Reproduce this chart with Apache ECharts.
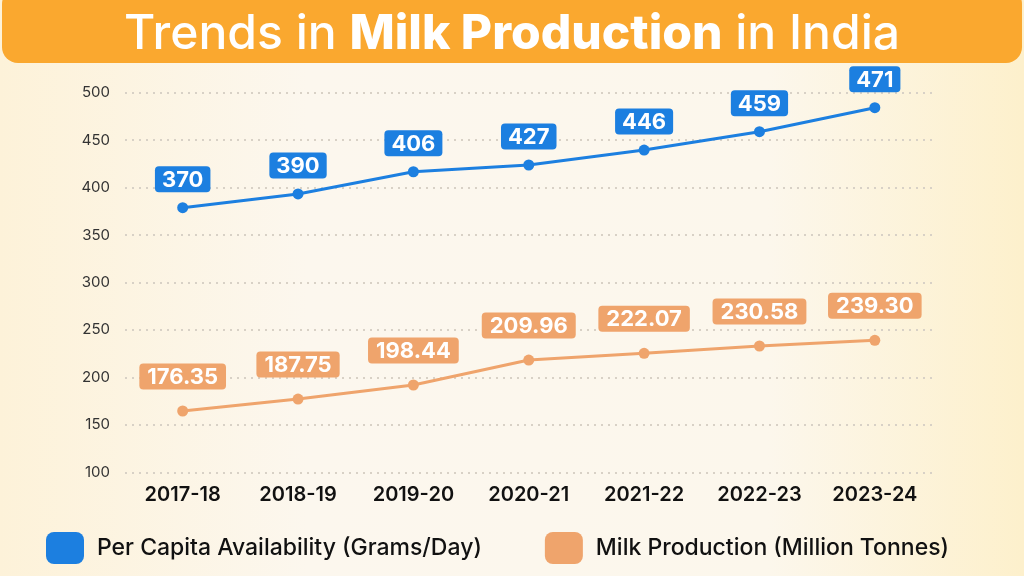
<!DOCTYPE html>
<html>
<head>
<meta charset="utf-8">
<style>html,body{margin:0;padding:0;}#c{width:1024px;height:576px;}</style>
<script src="https://cdn.jsdelivr.net/npm/echarts@6/dist/echarts.min.js"></script>
</head>
<body>
<div id="c"></div>
<script>
const categories = ['2017-18','2018-19','2019-20','2020-21','2021-22','2022-23','2023-24'];
const seriesNames = ['Per Capita Availability (Grams/Day)','Milk Production (Million Tonnes)'];
// plotted positions
const perCapitaValues = [378.8, 393.3, 416.7, 423.8, 439.6, 458.9, 484.2];
const milkValues = [164.6, 177.2, 192.0, 218.3, 225.4, 233.1, 239.1];
// label texts as printed in the picture
const perCapitaLabels = ['370','390','406','427','446','459','471'];
const milkLabels = ['176.35','187.75','198.44','209.96','222.07','230.58','239.30'];
const yTicks = [100,150,200,250,300,350,400,450,500];

const BLUE = '#1c7fe0';
const ORANGE = '#efa46c';
const FONT = 'Inter';

const chart = echarts.init(document.getElementById('c'));
chart.setOption({
  backgroundColor: {
    type: 'linear', x: 0, y: 0, x2: 1, y2: 0,
    colorStops: [
      {offset: 0, color: '#fdf2d9'},
      {offset: 0.3, color: '#fcf7ee'},
      {offset: 0.75, color: '#fcf7ec'},
      {offset: 1, color: '#fdf0cc'}
    ]
  },
  animation: false,
  graphic: [
    {type: 'rect', left: 2, top: -12, shape: {width: 1020, height: 75, r: 16}, style: {fill: '#faa82f'}, z: 0}
  ],
  title: {
    text: '{a|Trends in }{b|Milk Production}{a| in India}',
    left: 'center', top: 6,
    textStyle: {
      rich: {
        a: {fontFamily: FONT, fontSize: 48, fontWeight: 500, color: '#ffffff'},
        b: {fontFamily: FONT, fontSize: 48, fontWeight: 800, color: '#ffffff'}
      }
    },
    z: 10
  },
  legend: {
    left: 46, top: 532, padding: 0,
    itemWidth: 38, itemHeight: 32, itemGap: 63,
    icon: 'roundRect',
    data: [
      {name: seriesNames[0], itemStyle: {color: BLUE}},
      {name: seriesNames[1], itemStyle: {color: ORANGE}}
    ],
    textStyle: {fontFamily: FONT, fontSize: 23, fontWeight: 500, color: '#111', padding: [0, 0, 0, 8]}
  },
  grid: {left: 125, right: 1024 - 932.5, top: 92.7, height: 379.6, containLabel: false},
  xAxis: {
    type: 'category', data: categories, boundaryGap: true,
    axisLine: {show: false}, axisTick: {show: false},
    axisLabel: {fontFamily: FONT, fontSize: 20, fontWeight: 600, color: '#111', margin: 13}
  },
  yAxis: {
    type: 'value', min: yTicks[0], max: yTicks[yTicks.length - 1], interval: 50,
    axisLine: {show: false}, axisTick: {show: false},
    axisLabel: {fontFamily: FONT, fontSize: 15, color: '#333', margin: 15},
    splitLine: {lineStyle: {color: '#d8d1c6', width: 2, type: [2, 5]}}
  },
  series: [
    {
      name: seriesNames[0], type: 'line', data: perCapitaValues,
      symbol: 'circle', symbolSize: 11,
      lineStyle: {color: BLUE, width: 3}, itemStyle: {color: BLUE},
      label: {
        show: true, position: 'top', distance: 10,
        formatter: p => perCapitaLabels[p.dataIndex],
        backgroundColor: BLUE, borderRadius: 4, padding: [3, 7, 1, 7],
        color: '#fff', fontFamily: FONT, fontSize: 22, fontWeight: 700
      }
    },
    {
      name: seriesNames[1], type: 'line', data: milkValues,
      symbol: 'circle', symbolSize: 11,
      lineStyle: {color: ORANGE, width: 3}, itemStyle: {color: ORANGE},
      label: {
        show: true, position: 'top', distance: 16,
        formatter: p => milkLabels[p.dataIndex],
        backgroundColor: ORANGE, borderRadius: 4, padding: [3, 8, 1, 8],
        color: '#fff', fontFamily: FONT, fontSize: 22, fontWeight: 700
      }
    }
  ]
});
</script>
</body>
</html>
